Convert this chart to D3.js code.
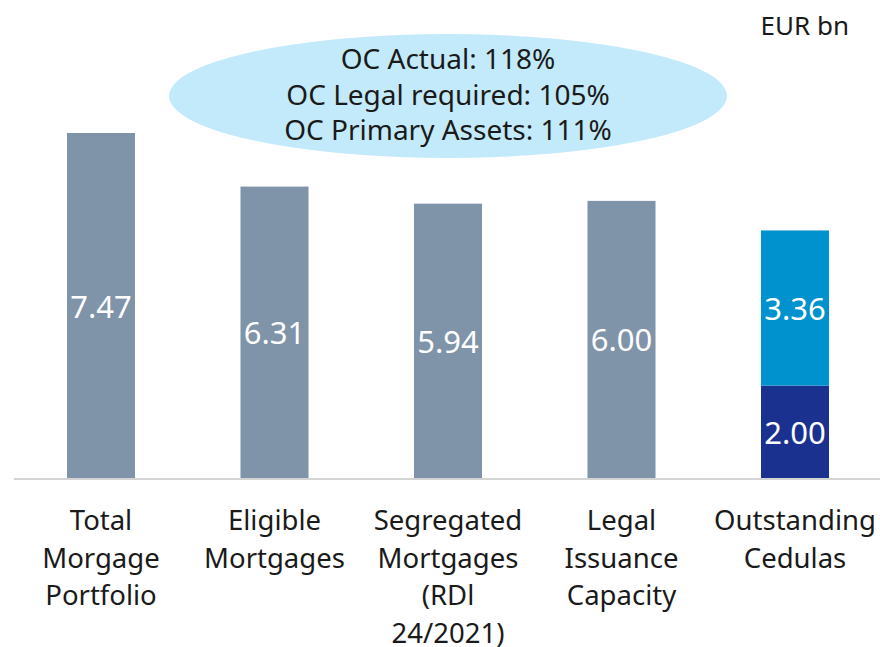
<!DOCTYPE html>
<html>
<head>
<meta charset="utf-8" />
<script src="https://cdn.jsdelivr.net/npm/d3@7/dist/d3.min.js"></script>
<style>
  body { margin: 0; background: #fff; }
  text { font-family: "Noto Sans", sans-serif; }
  .cat { font-size: 27.5px; fill: #1a1a1a; }
  .val { font-size: 31px; fill: #fff; }
  .oc { font-size: 28px; fill: #1a1a1a; }
</style>
</head>
<body>
<script>
  var width = 880;
  var height = 647;

  // data
  var categories = ["Total Morgage Portfolio", "Eligible Mortgages", "Segregated Mortgages", "Legal Issuance Capacity", "Outstanding Cedulas"];
  var catLines = [
    ["Total", "Morgage", "Portfolio"],
    ["Eligible", "Mortgages"],
    ["Segregated", "Mortgages", "(RDl", "24/2021)"],
    ["Legal", "Issuance", "Capacity"],
    ["Outstanding", "Cedulas"]
  ];
  var baseValues = [7.47, 6.31, 5.94, 6.00, 2.00];
  var topValues = [0, 0, 0, 0, 3.36];
  var ocLines = ["OC Actual: 118%", "OC Legal required: 105%", "OC Primary Assets: 111%"];
  var unitLabel = "EUR bn";

  var greyCol = "#7f94a8", navyCol = "#1b3190", blueCol = "#0092cf";

  var svg = d3.select("body").append("svg")
    .attr("width", width)
    .attr("height", height);

  var x = d3.scaleBand()
    .domain(categories)
    .range([14.25, 881.75])
    .paddingInner(0.608)
    .paddingOuter(0.304);

  var y = d3.scaleLinear()
    .domain([0, 7.47])
    .range([478, 133]);

  // bottom segments
  svg.append("g").selectAll("rect")
    .data(categories)
    .enter().append("rect")
    .attr("x", function(d) { return x(d); })
    .attr("width", x.bandwidth())
    .attr("y", function(d, i) { return y(baseValues[i]); })
    .attr("height", function(d, i) { return y(0) - y(baseValues[i]); })
    .attr("fill", function(d, i) { return topValues[i] > 0 ? navyCol : greyCol; });

  // top segments (stacked)
  svg.append("g").selectAll("rect")
    .data(categories.filter(function(d, i) { return topValues[i] > 0; }))
    .enter().append("rect")
    .attr("x", function(d) { return x(d); })
    .attr("width", x.bandwidth())
    .attr("y", function(d) { var i = categories.indexOf(d); return y(baseValues[i] + topValues[i]); })
    .attr("height", function(d) { var i = categories.indexOf(d); return y(baseValues[i]) - y(baseValues[i] + topValues[i]); })
    .attr("fill", blueCol);

  // value labels
  categories.forEach(function(c, i) {
    var cx = x(c) + x.bandwidth() / 2;
    svg.append("text").attr("class", "val")
      .attr("x", cx)
      .attr("y", (y(0) + y(baseValues[i])) / 2)
      .attr("text-anchor", "middle")
      .attr("dominant-baseline", "central")
      .text(baseValues[i].toFixed(2));
    if (topValues[i] > 0) {
      svg.append("text").attr("class", "val")
        .attr("x", cx)
        .attr("y", (y(baseValues[i]) + y(baseValues[i] + topValues[i])) / 2)
        .attr("text-anchor", "middle")
        .attr("dominant-baseline", "central")
        .text(topValues[i].toFixed(2));
    }
  });

  // baseline
  svg.append("line")
    .attr("x1", 14).attr("x2", width)
    .attr("y1", y(0) + 1).attr("y2", y(0) + 1)
    .attr("stroke", "#d4d4d4")
    .attr("stroke-width", 2);

  // category labels
  categories.forEach(function(c, i) {
    var t = svg.append("text").attr("class", "cat")
      .attr("text-anchor", "middle")
      .attr("x", x(c) + x.bandwidth() / 2)
      .attr("y", 530);
    catLines[i].forEach(function(line, j) {
      t.append("tspan")
        .attr("x", x(c) + x.bandwidth() / 2)
        .attr("dy", j === 0 ? 0 : 37.5)
        .text(line);
    });
  });

  // OC ellipse
  svg.append("ellipse")
    .attr("cx", 448).attr("cy", 96)
    .attr("rx", 279).attr("ry", 62)
    .attr("fill", "#c3eafb");

  ocLines.forEach(function(l, i) {
    svg.append("text").attr("class", "oc")
      .attr("x", 448)
      .attr("y", 58 + i * 35.5)
      .attr("text-anchor", "middle")
      .attr("dominant-baseline", "central")
      .text(l);
  });

  svg.append("text")
    .attr("x", 849).attr("y", 35)
    .attr("text-anchor", "end")
    .style("font-size", "26px")
    .style("fill", "#1a1a1a")
    .text(unitLabel);
</script>
</body>
</html>
